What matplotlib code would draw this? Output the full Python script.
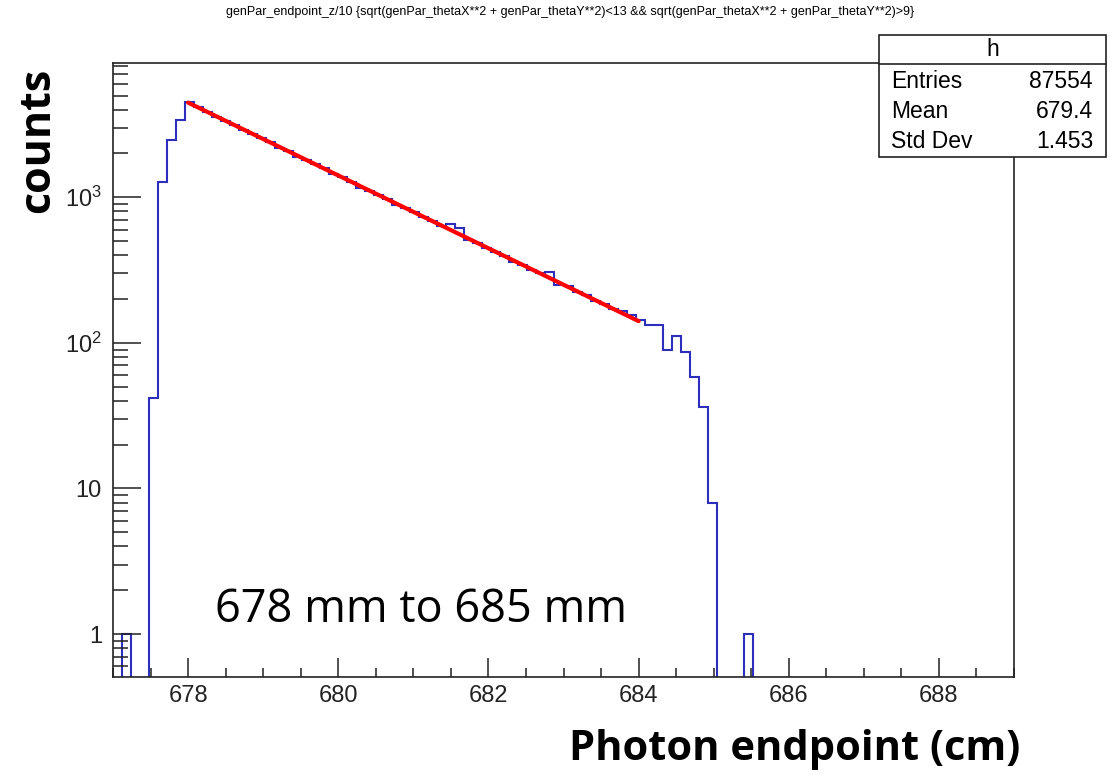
import numpy as np
import matplotlib
matplotlib.use("Agg")
import matplotlib.pyplot as plt
from matplotlib.patches import Rectangle
from matplotlib.ticker import FixedLocator, FixedFormatter, MultipleLocator, NullFormatter

plt.rcParams['font.family'] = ['Liberation Sans', 'DejaVu Sans']
plt.rcParams['mathtext.default'] = 'regular'

# histogram: 100 bins from 677 to 689 cm
x_lo, x_hi, n_bins = 677.0, 689.0, 100
counts_head = [0, 1, 0, 0, 42, 1280, 2490, 3380, 4480, 4200,
               3860, 3540, 3360, 3140, 2900, 2700, 2560, 2380, 2180, 2080,
               1900, 1810, 1690, 1590, 1450, 1370, 1280, 1160, 1110, 1030,
               970, 890, 840, 790, 730, 690, 630, 655, 612, 510,
               488, 450, 420, 396, 362, 345, 318, 300, 307, 250,
               245, 224, 214, 195, 185, 171, 165, 156, 143, 133,
               133, 90, 111, 87, 58, 36, 8, 0, 0, 0,
               1]
counts = np.array(counts_head + [0] * (n_bins - len(counts_head)), dtype=float)
edges = np.linspace(x_lo, x_hi, n_bins + 1)

# exponential fit drawn between its end points
fit_x = [678.0, 684.0]
fit_y = [4470.0, 141.0]

title = ("genPar_endpoint_z/10 {sqrt(genPar_thetaX**2 + genPar_thetaY**2)<13 "
         "&& sqrt(genPar_thetaX**2 + genPar_thetaY**2)>9}")
stats_name = "h"
stats_rows = [("Entries", "87554"), ("Mean", "679.4"), ("Std Dev", "1.453")]

W, H = 1115, 778
fig = plt.figure(figsize=(W / 100, H / 100), dpi=100)
ax = fig.add_axes([113 / W, 1 - 677 / H, (1014 - 113) / W, (677 - 63) / H])

draw = np.where(counts > 0, counts, 1e-3)
ax.stairs(draw, edges, baseline=None, color='#2e2ebc', lw=1.5)
ax.plot(fit_x, fit_y, color='#ff0000', lw=3.0, solid_capstyle='round')

ax.set_yscale('log')
ax.set_xlim(x_lo, x_hi)
ax.set_ylim(0.507, 8360)

ax.xaxis.set_major_locator(MultipleLocator(2))
ax.xaxis.set_minor_locator(MultipleLocator(0.5))
ax.yaxis.set_major_locator(FixedLocator([1, 10, 100, 1000]))
ax.yaxis.set_major_formatter(FixedFormatter(['1', '10', '$10^{2}$', '$10^{3}$']))
minors = [m * 10.0 ** d for d in range(-1, 4) for m in range(2, 10)]
ax.yaxis.set_minor_locator(FixedLocator(minors))
ax.yaxis.set_minor_formatter(NullFormatter())

ax.tick_params(axis='x', which='major', direction='in', length=13.5, width=1.1,
               labelsize=17, pad=6, top=False, colors='#222222')
ax.tick_params(axis='x', which='minor', direction='in', length=6.5, width=1.1, top=False,
               colors='#222222')
ax.tick_params(axis='y', which='major', direction='in', length=20, width=1.1,
               labelsize=17, pad=8, right=False, colors='#222222')
ax.tick_params(axis='y', which='minor', direction='in', length=11, width=1.1, right=False,
               colors='#222222')
for s in ax.spines.values():
    s.set_linewidth(1.2)
    s.set_color('#222222')

big = ['Open Sans', 'Noto Sans', 'DejaVu Sans']

# annotation in the plot
fig.text(215 / W, 1 - 622 / H, "678 mm to 685 mm", fontsize=32.5,
         family=big, ha='left', va='baseline')

# axis titles
fig.text(38 / W, 1 - 140 / H, "counts", rotation=90, fontsize=31, fontweight='bold',
         family=big, ha='center', va='center')
fig.text(795 / W, 1 - 750 / H, "Photon endpoint (cm)", fontsize=30, fontweight='bold',
         family=big, ha='center', va='center')

# histogram title
fig.text(570 / W, 1 - 12 / H, title, fontsize=9,
         family=['Liberation Sans Narrow', 'Liberation Sans'], ha='center', va='center')

# stats box
bx0, bx1, by0, by1, bdiv = 879, 1106, 35, 157, 64
fig.add_artist(Rectangle((bx0 / W, 1 - by1 / H), (bx1 - bx0) / W, (by1 - by0) / H,
                         transform=fig.transFigure, facecolor='white',
                         edgecolor='#222222', lw=1.2, zorder=5))
fig.add_artist(plt.Line2D([bx0 / W, bx1 / W], [1 - bdiv / H, 1 - bdiv / H],
                          transform=fig.transFigure, color='#222222', lw=1.2, zorder=6))
fig.text((bx0 + bx1) / 2 / W, 1 - 49 / H, stats_name, fontsize=16.5, ha='center',
         va='center', zorder=7)
row_y = [82, 112, 142]
for (lab, val), yy in zip(stats_rows, row_y):
    fig.text(891 / W, 1 - yy / H, lab, fontsize=16.5, ha='left', va='center', zorder=7)
    fig.text(1093 / W, 1 - yy / H, val, fontsize=16.5, ha='right', va='center', zorder=7)

fig.savefig("out.png", dpi=100)
